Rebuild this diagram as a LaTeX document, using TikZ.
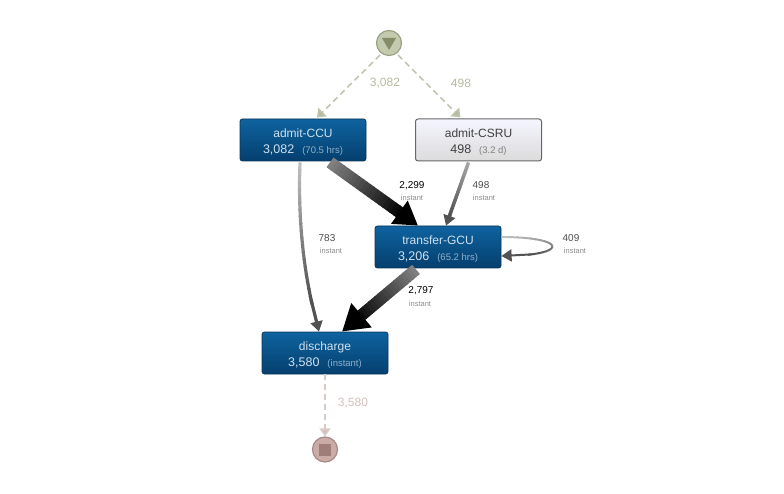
\documentclass[tikz,border=0pt]{standalone}
\usepackage{fontspec}
\setmainfont{Liberation Sans}
\usetikzlibrary{arrows.meta,calc}
\definecolor{boxtop}{HTML}{0E639F}
\definecolor{boxbot}{HTML}{053F6E}
\definecolor{boxedge}{HTML}{0A3558}
\definecolor{boxtxt}{HTML}{CFE0EE}
\definecolor{boxsub}{HTML}{8FB0CB}
\definecolor{startc}{HTML}{B4BBA0}
\definecolor{endc}{HTML}{D2C0BD}
\definecolor{startfill}{HTML}{C3CAAD}
\definecolor{startmark}{HTML}{848C6A}
\definecolor{startedge}{HTML}{9AA285}
\definecolor{stopfill}{HTML}{CBABA6}
\definecolor{stopmark}{HTML}{9F7D78}
\definecolor{stopedge}{HTML}{A58B87}
\tikzset{
  act/.style={minimum width=126pt,minimum height=42pt,inner sep=0pt,rounded corners=2.5pt,draw=boxedge,line width=.8pt,
    top color=boxtop,bottom color=boxbot,text=boxtxt,align=center,font=\fontsize{12}{16.5}\selectfont},
  actlight/.style={act,draw=black!60,line width=1pt,top color=white!96!blue,bottom color=black!14,text=black!75},
  dashgreen/.style={draw=startc!85!white,line width=1.6pt,dash pattern=on 6pt off 4pt,-{Triangle[width=12pt,length=8pt,fill=startc]}},
  dashpink/.style={draw=endc!85!white,line width=1.6pt,dash pattern=on 6pt off 4pt,-{Triangle[width=11pt,length=8pt,fill=endc]}},
  big/.style={font=\fontsize{12}{14}\selectfont},
  cnt/.style={font=\fontsize{10}{12}\selectfont,text=black!70},
  inst/.style={font=\fontsize{7.5}{9}\selectfont,text=black!45},
}
\newcommand{\acttext}[4]{\rule{0pt}{13pt}#1\\{\fontsize{12.5}{14}\selectfont #2}\hspace{8pt}{\fontsize{9.5}{10}\selectfont\color{#4}#3}}
% connector shaded from its source to its head:
% #1 from, #2 control, #3 control, #4 to, #5 width, #6 head width, #7 #8 black percent at start and end
\newcommand{\gradlink}[8]{%
  \foreach \k in {0,...,19}{
    \pgfmathsetmacro{\ta}{\k*0.042}
    \pgfmathsetmacro{\tb}{(\k+1.15)*0.042}
    \pgfmathsetmacro{\pc}{#7+(#8-#7)*\k/19}
    \path (#1) .. controls (#2) and (#3) .. (#4) coordinate[pos=\ta] (u) coordinate[pos=\tb] (v);
    \draw[line width=#5,draw=black!\pc] (u) -- (v);
  }
  \path (#1) .. controls (#2) and (#3) .. (#4) coordinate[pos=0.82] (v);
  \draw[line width=#5,draw=black!#8,-{Triangle[width=#6,length=#6*.85,fill=black!#8]}] (v) -- (#4);
}
\begin{document}
\begin{tikzpicture}[x=1pt,y=-1pt]
\useasboundingbox (0,0) rectangle (784,494);

% nodes
\node[circle,minimum size=25pt,inner sep=0pt,draw=startedge,line width=1.2pt,fill=startfill] (start) at (389,43) {};
\fill[startmark] ($(start)+(-7,-5)$) -- ($(start)+(7,-5)$) -- ($(start)+(0,7)$) -- cycle;
\node[circle,minimum size=25pt,inner sep=0pt,draw=stopedge,line width=1.2pt,fill=stopfill] (stop) at (325,449.5) {};
\fill[stopmark] ($(stop)+(-6,-6)$) rectangle ($(stop)+(6,6)$);

\node[act] (ccu) at (303,140) {\acttext{admit-CCU}{3,082}{(70.5 hrs)}{boxsub}};
\node[actlight] (csru) at (478.5,140) {\acttext{admit-CSRU}{498}{(3.2 d)}{black!50}};
\node[act] (gcu) at (438,247) {\acttext{transfer-GCU}{3,206}{(65.2 hrs)}{boxsub}};
\node[act] (dis) at (325,353) {\acttext{discharge}{3,580}{(instant)}{boxsub}};

% dashed flows
\coordinate (s1) at ([shift={(-9,12)}]start.center);
\coordinate (s2) at ([shift={(9,12)}]start.center);
\coordinate (c1) at ([shift={(14,-1)}]ccu.north);
\coordinate (c2) at ([shift={(-18,-1)}]csru.north);
\draw[dashgreen] (s1) -- (c1);
\draw[dashgreen] (s2) -- (c2);
\draw[dashpink] (dis.south) -- (stop.north);

% solid flows
\coordinate (a1) at ([shift={(-3,1)}]ccu.south);
\coordinate (a2) at ([shift={(-6,0)}]dis.north);
\gradlink{a1}{$(a1)+(-2,50)$}{$(a1)+(2,110)$}{a2}{3.2pt}{12pt}{25}{68}

\coordinate (b1) at ([shift={(27,1)}]ccu.south);
\coordinate (b2) at ([shift={(-20,0)}]gcu.north);
\gradlink{b1}{$(b1)!.33!(b2)$}{$(b1)!.67!(b2)$}{b2}{12pt}{27pt}{50}{100}

\coordinate (d1) at ([shift={(-10,1)}]csru.south);
\coordinate (d2) at ([shift={(8,0)}]gcu.north);
\gradlink{d1}{$(d1)!.33!(d2)$}{$(d1)!.67!(d2)$}{d2}{3.5pt}{12pt}{35}{68}

\coordinate (e1) at ([shift={(-22,1)}]gcu.south);
\coordinate (e2) at ([shift={(17,0)}]dis.north);
\gradlink{e1}{$(e1)!.33!(e2)$}{$(e1)!.67!(e2)$}{e2}{12pt}{30pt}{50}{100}

\coordinate (l1) at ([yshift=10pt]gcu.east);
\coordinate (l2) at ([yshift=-9pt]gcu.east);
\gradlink{l1}{$(l1)+(68,0)$}{$(l2)+(68,0)$}{l2}{2pt}{12pt}{25}{68}

% labels
\node[big,text=startc] (t1) at (385,83) {3,082};
\node[big,text=startc] (t2) at (461,83) {498};
\node[big,text=endc] (t3) at (353,403) {3,580};
\node[cnt,text=black] (n1) at (412,186) {2,299};
\node[inst] (i1) at (412,198) {instant};
\node[cnt] (n2) at (481,185) {498};
\node[inst] (i2) at (484,198) {instant};
\node[cnt] (n3) at (327,238) {783};
\node[inst] (i3) at (331,251) {instant};
\node[cnt,text=black] (n4) at (421,291) {2,797};
\node[inst] (i4) at (420,304) {instant};
\node[cnt] (n5) at (571,238) {409};
\node[inst] (i5) at (575,251) {instant};
\end{tikzpicture}
\end{document}
